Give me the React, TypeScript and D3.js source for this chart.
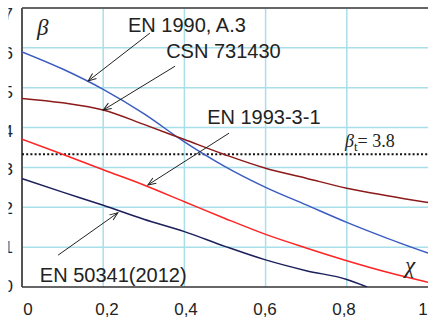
import React from "react";
import * as d3 from "d3";

const chi = [0, 0.1, 0.2, 0.3, 0.4, 0.5, 0.6, 0.7, 0.8, 0.9, 1.0];
const en1990 = [5.9, 5.47, 4.96, 4.35, 3.64, 3.02, 2.5, 2.06, 1.62, 1.22, 0.85];
const csn = [4.73, 4.62, 4.44, 4.08, 3.7, 3.32, 2.98, 2.73, 2.48, 2.29, 2.12];
const en1993 = [3.71, 3.33, 2.94, 2.56, 2.14, 1.72, 1.32, 0.98, 0.66, 0.37, 0.12];
const chiNavy = [0, 0.1, 0.2, 0.3, 0.4, 0.5, 0.6, 0.7, 0.8, 0.85];
const en50341 = [2.72, 2.38, 2.05, 1.7, 1.39, 1.02, 0.68, 0.41, 0.19, 0.0];

const betaT = 3.33;
const betaTLabel = "= 3.8";

const xTickValues = [0, 0.2, 0.4, 0.6, 0.8, 1];
const xTickLabels = ["0", "0,2", "0,4", "0,6", "0,8", "1"];
const yTickValues = [0, 1, 2, 3, 4, 5, 6, 7];
const yTickLabels = ["0", "1", "2", "3", "4", "5", "6", "7"];

const annotations = [
  { text: "EN 1990, A.3", tx: 0.261, ty: 6.39, ax: 0.315, ay: 6.37, bx: 0.163, by: 5.17 },
  { text: "CSN 731430", tx: 0.355, ty: 5.745, ax: 0.377, ay: 5.54, bx: 0.2, by: 4.44 },
  { text: "EN 1993-3-1", tx: 0.456, ty: 4.09, ax: 0.51, ay: 3.86, bx: 0.31, by: 2.56 },
  { text: "EN 50341(2012)", tx: 0.044, ty: 0.125, ax: 0.089, ay: 0.8, bx: 0.236, by: 1.86 },
];

const W = 428;
const H = 320;

export default function App() {
  const x = d3.scaleLinear().domain([0, 1]).range([22, 428]);
  const y = d3.scaleLinear().domain([0, 7]).range([287, 8]);
  const xLab = d3.scaleLinear().domain([0, 1]).range([28, 423]);
  const yLab = d3.scaleLinear().domain([0, 7]).range([286, 14]);

  const line = d3
    .line<[number, number]>()
    .x((d) => x(d[0]))
    .y((d) => y(d[1]))
    .curve(d3.curveMonotoneX);

  const series = [
    { xs: chi, ys: en1990, color: "#3b5cc0" },
    { xs: chi, ys: csn, color: "#8c1a1a" },
    { xs: chi, ys: en1993, color: "#ff2424" },
    { xs: chiNavy, ys: en50341, color: "#1b1f5c" },
  ];

  const sans = "'Liberation Sans', Arial, sans-serif";
  const serif = "'Liberation Serif', 'Times New Roman', serif";

  return (
    <svg
      width={W}
      height={H}
      style={{ position: "absolute", left: 0, top: 0, background: "#fff" }}
    >
      <defs>
        <marker
          id="arr"
          viewBox="-10 -5 12 10"
          markerWidth={12}
          markerHeight={10}
          markerUnits="userSpaceOnUse"
          refX={0}
          refY={0}
          orient="auto"
        >
          <path d="M -8 -3.2 L 0 0 L -8 3.2" fill="none" stroke="#222" strokeWidth={1} />
        </marker>
        <clipPath id="plot">
          <rect x={22} y={8} width={406} height={279} />
        </clipPath>
        <clipPath id="ylab">
          <rect x={8.5} y={0} width={14} height={H} />
        </clipPath>
      </defs>
      <rect width={W} height={H} fill="#fff" />

      {/* grid */}
      {yTickValues.slice(1, -1).map((v) => (
        <line key={"h" + v} x1={x(0)} x2={x(1)} y1={y(v)} y2={y(v)} stroke="#a9dfe9" strokeWidth={1.5} />
      ))}
      {xTickValues.slice(1, -1).map((v) => (
        <line key={"v" + v} x1={x(v)} x2={x(v)} y1={y(0)} y2={y(7)} stroke="#a9dfe9" strokeWidth={1.5} />
      ))}

      {/* frame */}
      <line x1={x(0)} x2={x(1)} y1={y(7)} y2={y(7)} stroke="#666" strokeWidth={2} />
      <line x1={x(0)} x2={x(0)} y1={y(7)} y2={y(0)} stroke="#555" strokeWidth={2} />
      <line x1={x(0)} x2={x(1)} y1={y(0)} y2={y(0)} stroke="#333" strokeWidth={1.5} />

      {/* beta_t dotted */}
      <line
        x1={x(0)}
        x2={x(1)}
        y1={y(betaT)}
        y2={y(betaT)}
        stroke="#111"
        strokeWidth={2}
        strokeDasharray="2 2.2"
      />

      {/* curves */}
      <g clipPath="url(#plot)">
        {series.map((s, i) => (
          <path
            key={i}
            d={line(s.xs.map((c, j) => [c, s.ys[j]] as [number, number])) || ""}
            fill="none"
            stroke={s.color}
            strokeWidth={1.5}
          />
        ))}
      </g>

      {/* annotations */}
      {annotations.map((a, i) => (
        <g key={i}>
          <line
            x1={x(a.ax)}
            y1={y(a.ay)}
            x2={x(a.bx)}
            y2={y(a.by)}
            stroke="#222"
            strokeWidth={1}
            markerEnd="url(#arr)"
          />
          <text x={x(a.tx)} y={y(a.ty)} fontFamily={sans} fontSize={20} fill="#222">
            {a.text}
          </text>
        </g>
      ))}

      {/* axis labels */}
      <text x={37} y={35} fontFamily={serif} fontStyle="italic" fontSize={23} fill="#222">
        β
      </text>
      <text x={405} y={273} fontFamily={serif} fontStyle="italic" fontSize={23} fill="#222">
        χ
      </text>
      <text x={345} y={147} fontFamily={serif} fontSize={18} fill="#222">
        <tspan fontStyle="italic">β</tspan>
        <tspan fontSize={13} dy={4}>t</tspan>
        <tspan dy={-4}>{betaTLabel}</tspan>
      </text>

      {/* ticks */}
      {xTickValues.map((v, i) => (
        <text key={"xt" + i} x={xLab(v)} y={315} textAnchor="middle" fontFamily={sans} fontSize={17} fill="#222">
          {xTickLabels[i]}
        </text>
      ))}
      <g clipPath="url(#ylab)">
        {yTickValues.map((v, i) => (
          <text key={"yt" + i} x={13} y={yLab(v)} dy="0.35em" textAnchor="end" fontFamily={sans} fontSize={17} fill="#222">
            {yTickLabels[i]}
          </text>
        ))}
      </g>
    </svg>
  );
}
